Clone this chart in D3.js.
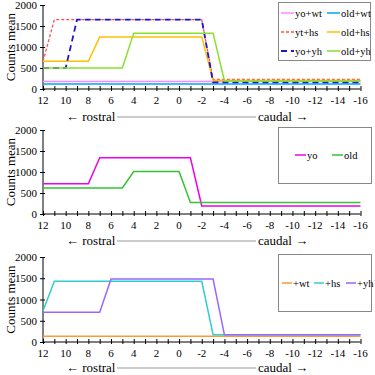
<!DOCTYPE html>
<html><head><meta charset="utf-8">
<script src="https://cdn.jsdelivr.net/npm/d3@7"></script>
<style>body{margin:0;background:#fff}svg{display:block}</style>
</head><body>
<svg id="c" width="375" height="375"></svg>
<script>
// x positions (rostral +12 to caudal -16)
const xs = [12,11,10,9,8,7,6,5,4,3,2,1,0,-1,-2,-3,-4,-5,-6,-7,-8,-9,-10,-11,-12,-13,-14,-15,-16];
const xTickLabels = [12,10,8,6,4,2,0,-2,-4,-6,-8,-10,-12,-14,-16];
const yTicks = [0,500,1000,1500,2000];

// Panel 1
const yoWt  = [180,180,180,180,180,180,180,180,180,180,180,180,180,180,180,180,180,180,180,180,180,180,180,180,180,180,180,180,180];
const oldWt = [120,120,120,120,120,120,120,120,120,120,120,120,120,120,120,120,120,120,120,120,120,120,120,120,120,120,120,120,120];
const ytHs  = [660,1650,1650,1650,1650,1650,1650,1650,1650,1650,1650,1650,1650,1650,1650,230,230,230,230,230,230,230,230,230,230,230,230,230,230];
const oldHs = [660,660,660,660,660,1240,1240,1240,1240,1240,1240,1240,1240,1240,1240,200,200,200,200,200,200,200,200,200,200,200,200,200,200];
const yoYh  = [500,500,500,1650,1650,1650,1650,1650,1650,1650,1650,1650,1650,1650,1650,160,160,160,160,160,160,160,160,160,160,160,160,160,160];
const oldYh = [500,500,500,500,500,500,500,500,1330,1330,1330,1330,1330,1330,1330,1330,190,190,190,190,190,190,190,190,190,190,190,190,190];

// Panel 2
const yo  = [720,720,720,720,720,1340,1340,1340,1340,1340,1340,1340,1340,1340,190,190,190,190,190,190,190,190,190,190,190,190,190,190,190];
const old = [620,620,620,620,620,620,620,620,1010,1010,1010,1010,1010,275,275,275,275,275,275,275,275,275,275,275,275,275,275,275,275];

// Panel 3
const pWt = [135,135,135,135,135,135,135,135,135,135,135,135,135,135,135,135,135,135,135,135,135,135,135,135,135,135,135,135,135];
const pHs = [730,1430,1430,1430,1430,1430,1430,1430,1430,1430,1430,1430,1430,1430,1430,170,170,170,170,170,170,170,170,170,170,170,170,170,170];
const pYh = [700,700,700,700,700,700,1480,1480,1480,1480,1480,1480,1480,1480,1480,1480,170,170,170,170,170,170,170,170,170,170,170,170,170];

const FONT = '"Liberation Serif"';
const svg = d3.select("#c");

const panels = [
  { top:5, bottom:89, tickY:104, capY:121,
    legend:{x:278,y:2,w:92,h:58},
    series:[
      {name:"yo+wt", v:yoWt, c:"#ff88ff", dash:null, w:1.5, lx:0, ly:0},
      {name:"old+wt", v:oldWt, c:"#00a8f0", dash:null, w:1.5, lx:1, ly:0},
      {name:"yt+hs", v:ytHs, c:"#ff5050", dash:"3,2", w:1.3, lx:0, ly:1},
      {name:"old+hs", v:oldHs, c:"#ffc000", dash:null, w:1.5, lx:1, ly:1},
      {name:"yo+yh", v:yoYh, c:"#1a1acc", dash:"6,4", w:1.8, lx:0, ly:2},
      {name:"old+yh", v:oldYh, c:"#88e030", dash:null, w:1.5, lx:1, ly:2}
    ],
    legendPos:(s)=>({x: 281 + s.lx*46, y: 13 + s.ly*19, len:13})
  },
  { top:130, bottom:214, tickY:229, capY:245,
    legend:{x:278,y:127,w:93,h:56},
    series:[
      {name:"yo", v:yo, c:"#ee00ee", dash:null, w:1.5, i:0},
      {name:"old", v:old, c:"#33c433", dash:null, w:1.5, i:1}
    ],
    legendPos:(s)=>({x: 295 + s.i*37, y: 155, len:11})
  },
  { top:257, bottom:342, tickY:357, capY:372,
    legend:{x:278,y:254,w:93,h:57},
    series:[
      {name:"+wt", v:pWt, c:"#ff9933", dash:null, w:1.5, i:0},
      {name:"+hs", v:pHs, c:"#33cccc", dash:null, w:1.5, i:1},
      {name:"+yh", v:pYh, c:"#9966ff", dash:null, w:1.5, i:2}
    ],
    legendPos:(s)=>({x: 282 + s.i*32, y: 283, len:10})
  }
];

const x = d3.scaleLinear().domain([12,-16]).range([43,360.5]);

function txt(sel){ return sel.style("font-family",FONT); }

panels.forEach(p => {
  const y = d3.scaleLinear().domain([0,2000]).range([p.bottom,p.top]);
  const g = svg.append("g");

  // y axis
  const ya = g.append("g").attr("transform","translate(43,0)")
    .call(d3.axisLeft(y).tickValues(yTicks).tickSize(3).tickPadding(3).tickFormat(d3.format("d")));
  ya.select(".domain").attr("stroke","#000").attr("d",`M0,${p.top}V${p.bottom}`);
  ya.selectAll(".tick line").attr("stroke","#000").attr("x2",-3).attr("x1",2);
  txt(ya.selectAll("text")).attr("font-size",11).attr("fill","#000");

  // y label
  txt(g.append("text")).attr("transform",`translate(15,${(p.top+p.bottom)/2}) rotate(-90)`)
    .attr("text-anchor","middle").attr("font-size",13).text("Counts mean");

  // x axis with ticks at each integer
  const xa = g.append("g").attr("transform",`translate(0,${p.bottom})`)
    .call(d3.axisBottom(x).tickValues(xs).tickSize(3).tickFormat(""));
  xa.select(".domain").attr("stroke","#000").attr("d",`M43,0H360.5`);
  xa.selectAll(".tick line").attr("stroke","#000").attr("y1",-3).attr("y2",2);
  txt(g.selectAll(".xl").data(xTickLabels).join("text"))
    .attr("x",d=>x(d)).attr("y",p.tickY).attr("text-anchor","middle")
    .attr("font-size",11).text(d=>d);

  // caption
  txt(g.append("text")).attr("x",66).attr("y",p.capY).attr("font-size",13).text("\u2190 rostral");
  g.append("line").attr("x1",117).attr("x2",256).attr("y1",p.capY-4).attr("y2",p.capY-4).attr("stroke","#999").attr("stroke-width",1);
  txt(g.append("text")).attr("x",258).attr("y",p.capY).attr("font-size",13).text("caudal \u2192");

  // lines
  const line = d3.line().x((d,i)=>x(xs[i])).y(d=>y(d));
  p.series.forEach(s => {
    g.append("path").attr("d",line(s.v)).attr("fill","none").attr("stroke",s.c)
      .attr("stroke-width",s.w).attr("stroke-dasharray",s.dash);
  });

  // legend
  g.append("rect").attr("x",p.legend.x+0.5).attr("y",p.legend.y+0.5).attr("width",p.legend.w).attr("height",p.legend.h)
    .attr("fill","#fff").attr("stroke","#888").attr("stroke-width",1);
  p.series.forEach(s => {
    const lp = p.legendPos(s);
    g.append("line").attr("x1",lp.x).attr("x2",lp.x+lp.len).attr("y1",lp.y).attr("y2",lp.y)
      .attr("stroke",s.c).attr("stroke-width",s.w).attr("stroke-dasharray",s.dash);
    txt(g.append("text")).attr("x",lp.x+lp.len+1).attr("y",lp.y+3.5).attr("font-size",10.5).text(s.name);
  });
});
</script>
</body></html>
